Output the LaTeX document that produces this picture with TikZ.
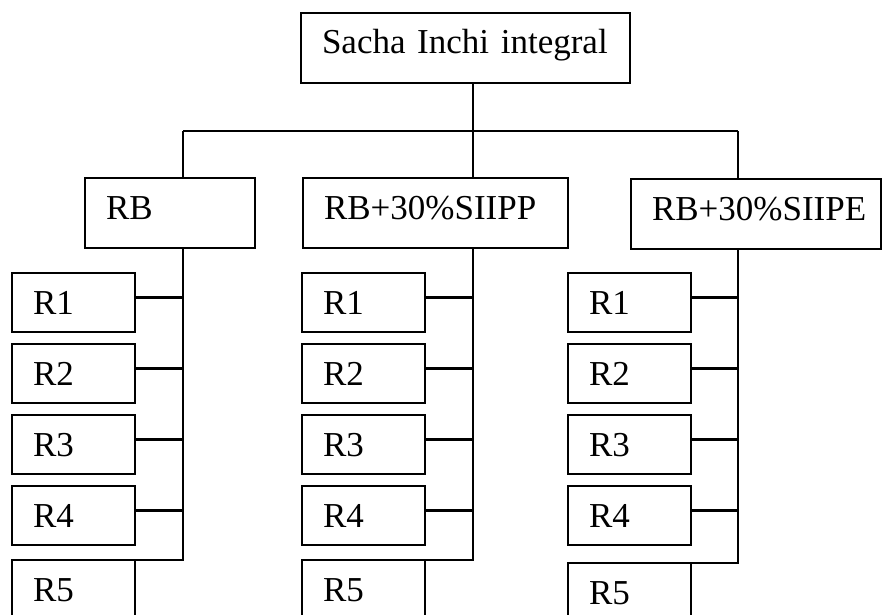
\documentclass[tikz,border=0pt]{standalone}
\usepackage{fontspec}
\setmainfont{Liberation Serif}
\usetikzlibrary{positioning}

\begin{document}
\begin{tikzpicture}[x=0.5pt, y=-0.5pt]
  \tikzset{
    rbox/.style={rectangle, draw=black, line width=1.1pt, anchor=north west,
      inner xsep=10.5pt, inner ysep=0pt, outer sep=0pt, align=left,
      font=\fontsize{17.5}{20}\selectfont,
      text height=12pt, text depth=0pt, text width=40.5pt, minimum height=29.5pt},
    group/.style={rbox, text width=#1, text depth=6pt, minimum height=35pt},
    link/.style={line width=1.1pt}
  }
  \clip (0,0) rectangle (888,615);
  % levels
  \node[group=143.5pt] (sacha) at (301,13) {Sacha Inchi integral};
  \node[group=64pt] (rb) at (85,178) {RB};
  \node[group=111.5pt] (siipp) at (303,178) {RB+30\%SIIPP};
  \node[group=104pt] (siipe) at (631,179) {RB+30\%SIIPE};
  % replicates
  \foreach \col/\x in {l/12, m/302, r/568} {
    \foreach \i in {1,...,4} {
      \node[rbox] (\col\i) at (\x, {273+71*(\i-1)}) {R\i};
    }
  }
  \node[rbox] (l5) at (12,560) {R5};
  \node[rbox] (m5) at (302,560) {R5};
  \node[rbox] (r5) at (568,563) {R5};
  % connectors
  \coordinate (busl) at (183,131);
  \coordinate (busm) at (473,131);
  \coordinate (busr) at (738,131);
  \draw[link] (sacha.south -| busm) -- (busm);
  \draw[link] (busl) -- (busr);
  \draw[link] (busl) -- (rb.north -| busl);
  \draw[link] (busm) -- (siipp.north -| busm);
  \draw[link] (busr) -- (siipe.north -| busr);
  \draw[link] (rb.south -| busl) |- (l5.north east);
  \draw[link] (siipp.south -| busm) |- (m5.north east);
  \draw[link] (siipe.south -| busr) |- (r5.north east);
  \foreach \col/\bus in {l/busl, m/busm, r/busr} {
    \foreach \i in {1,...,4} {
      \draw[link] ([yshift=2.5pt]\col\i.east) -- ([yshift=2.5pt]\col\i.east -| \bus);
    }
  }
\end{tikzpicture}
\end{document}
